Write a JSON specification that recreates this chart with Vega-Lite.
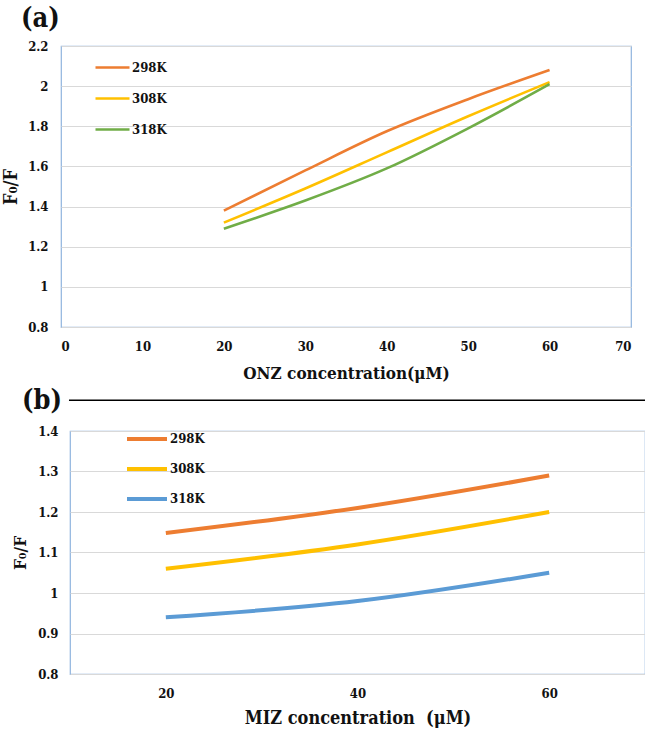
{
  "$schema": "https://vega.github.io/schema/vega-lite/v6.json",
  "padding": {"left": 2, "top": 4, "right": 0, "bottom": 0},
  "background": "white",
  "datasets": {
    "a": [
      {"c": 20, "r": 1.38, "T": "298K"}, {"c": 30, "r": 1.58, "T": "298K"}, {"c": 40, "r": 1.775, "T": "298K"}, {"c": 50, "r": 1.935, "T": "298K"}, {"c": 60, "r": 2.08, "T": "298K"},
      {"c": 20, "r": 1.32, "T": "308K"}, {"c": 30, "r": 1.49, "T": "308K"}, {"c": 40, "r": 1.67, "T": "308K"}, {"c": 50, "r": 1.85, "T": "308K"}, {"c": 60, "r": 2.02, "T": "308K"},
      {"c": 20, "r": 1.29, "T": "318K"}, {"c": 30, "r": 1.43, "T": "318K"}, {"c": 40, "r": 1.59, "T": "318K"}, {"c": 50, "r": 1.79, "T": "318K"}, {"c": 60, "r": 2.01, "T": "318K"}
    ],
    "b": [
      {"c": 20, "r": 1.148, "T": "298K"}, {"c": 40, "r": 1.21, "T": "298K"}, {"c": 60, "r": 1.29, "T": "298K"},
      {"c": 20, "r": 1.06, "T": "308K"}, {"c": 40, "r": 1.12, "T": "308K"}, {"c": 60, "r": 1.2, "T": "308K"},
      {"c": 20, "r": 0.94, "T": "318K"}, {"c": 40, "r": 0.98, "T": "318K"}, {"c": 60, "r": 1.05, "T": "318K"}
    ],
    "sep": [{"k": "separator"}]
  },
  "config": {
    "font": "DejaVu Serif Condensed",
    "view": {"stroke": "#8FB4DE", "strokeWidth": 1.2},
    "axis": {
      "labelFont": "DejaVu Serif Condensed", "labelFontWeight": "bold", "labelFontSize": 13, "labelColor": "#111",
      "titleFont": "DejaVu Serif Condensed", "titleFontWeight": "bold", "titleFontSize": 17, "titleColor": "#111",
      "ticks": false, "domain": false, "gridColor": "#D9D9D9", "gridWidth": 1
    },
    "legend": {
      "labelFont": "DejaVu Serif Condensed", "labelFontWeight": "bold", "labelFontSize": 13, "labelColor": "#111",
      "padding": 0, "labelOffset": 1, "symbolType": "stroke"
    },
    "title": {"font": "DejaVu Serif Condensed", "fontWeight": "bold", "fontSize": 27, "color": "#111", "anchor": "start", "frame": "group"}
  },
  "bounds": "flush",
  "align": "none",
  "spacing": 104,
  "resolve": {"scale": {"color": "independent", "x": "independent", "y": "independent"}, "legend": {"color": "independent"}},
  "vconcat": [
    {
      "width": 570,
      "height": 281,
      "title": {"text": "(a)", "dx": -40, "offset": 7},
      "layer": [
        {
          "data": {"name": "a"},
          "mark": {"type": "line", "interpolate": "monotone", "strokeWidth": 2.6},
          "encoding": {
            "x": {"field": "c", "type": "quantitative", "scale": {"domain": [0, 70], "nice": false, "zero": false},
                  "axis": {"values": [0, 10, 20, 30, 40, 50, 60, 70], "grid": false, "labelPadding": 13, "title": "ONZ concentration(μM)", "titlePadding": 12}},
            "y": {"field": "r", "type": "quantitative", "scale": {"domain": [0.8, 2.2], "nice": false, "zero": false},
                  "axis": {"values": [0.8, 1, 1.2, 1.4, 1.6, 1.8, 2, 2.2], "format": "~g", "labelPadding": 13, "title": "F₀/F", "titleFontSize": 18, "titlePadding": 7}},
            "color": {"field": "T", "type": "nominal",
                      "scale": {"domain": ["298K", "308K", "318K"], "range": ["#ED7D31", "#FFC000", "#70AD47"]},
                      "legend": {"title": null, "orient": "none", "legendX": 33, "legendY": 3, "symbolSize": 1156, "symbolStrokeWidth": 2.6, "rowPadding": 5}}
          }
        },
        {
          "data": {"name": "sep"},
          "mark": {"type": "rule", "color": "#000", "strokeWidth": 1.5},
          "encoding": {
            "x": {"datum": 0.98, "scale": {"domain": [0, 70], "nice": false, "zero": false}},
            "x2": {"datum": 71.84},
            "y": {"datum": 0.435, "scale": {"domain": [0.8, 2.2], "nice": false, "zero": false}}
          }
        }
      ]
    },
    {
      "bounds": "flush",
      "spacing": 8,
      "hconcat": [
        {
          "width": 1,
          "height": 1,
          "view": {"stroke": null},
          "data": {"values": []},
          "mark": "point"
        },
        {
          "width": 575,
          "height": 243,
          "title": {"text": "(b)", "dx": -48, "offset": 10},
          "data": {"name": "b"},
          "mark": {"type": "line", "interpolate": "monotone", "strokeWidth": 4},
          "encoding": {
            "x": {"field": "c", "type": "quantitative", "scale": {"domain": [10, 70], "nice": false, "zero": false},
                  "axis": {"values": [20, 40, 60], "grid": false, "labelPadding": 13, "title": "MIZ concentration\u00a0 (μM)", "titleFontSize": 18, "titlePadding": 9}},
            "y": {"field": "r", "type": "quantitative", "scale": {"domain": [0.8, 1.4], "nice": false, "zero": false},
                  "axis": {"values": [0.8, 0.9, 1, 1.1, 1.2, 1.3, 1.4], "format": "~g", "labelPadding": 12, "title": "F₀/F", "titlePadding": 8}},
            "color": {"field": "T", "type": "nominal",
                      "scale": {"domain": ["298K", "308K", "318K"], "range": ["#ED7D31", "#FFC000", "#5B9BD5"]},
                      "legend": {"title": null, "orient": "none", "legendX": 64, "legendY": -14, "symbolSize": 1600, "symbolStrokeWidth": 4, "rowPadding": -4}}
          }
        }
      ]
    }
  ]
}
